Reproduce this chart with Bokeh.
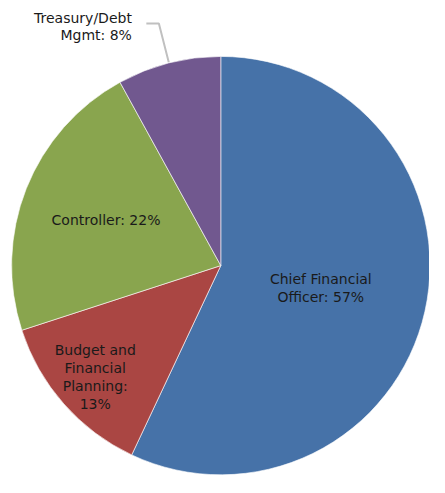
import numpy as np
from bokeh.plotting import figure
from bokeh.models import Range1d, ColumnDataSource
from bokeh.embed import file_html
from bokeh.resources import INLINE
from bokeh.core.properties import value

# ---- data ----
categories = ["Chief Financial Officer", "Budget and Financial Planning", "Controller", "Treasury/Debt Mgmt"]
shares = [57, 13, 22, 8]
label_lines = [
    ["Chief Financial", "Officer: 57%"],
    ["Budget and", "Financial", "Planning:", "13%"],
    ["Controller: 22%"],
    ["Treasury/Debt", "Mgmt: 8%"],
]

# ---- styling / layout ----
colors = ["#4672A8", "#AA4643", "#89A54E", "#71588F"]
label_radius_frac = [0.49, 0.80, 0.59, None]  # None = outside with leader
W, H = 429, 477
CX, CY, R = 228.5, -274.0, 217.0
FONT = "DejaVu Sans"
FS = 14
LINE_H = 18.5

p = figure(width=W, height=H, output_backend="svg", toolbar_location=None,
           x_range=Range1d(0, 445), y_range=Range1d(-493, 0),
           min_border=0)
p.axis.visible = False
p.grid.visible = False
p.outline_line_color = None
p.background_fill_color = "white"
p.border_fill_color = "white"

vals = np.array(shares, dtype=float)
frac = vals / vals.sum()
cum = np.concatenate([[0], np.cumsum(frac)])
start = np.deg2rad(90 - cum[1:] * 360)
end = np.deg2rad(90 - cum[:-1] * 360)
mid = (start + end) / 2

src = ColumnDataSource(dict(start=start, end=end, color=colors, cat=categories))
p.wedge(x=CX, y=CY, radius=R, start_angle="start", end_angle="end", color="color",
        line_color="white", line_width=1, line_alpha=0.6, source=src)

tx, ty, tt, ta = [], [], [], []
for i, lines in enumerate(label_lines):
    f = label_radius_frac[i]
    if f is not None:
        lx = CX + f * R * np.cos(mid[i])
        ly = CY + f * R * np.sin(mid[i])
        n = len(lines)
        for k, s in enumerate(lines):
            tx.append(lx)
            ty.append(ly + (n - 1) / 2 * LINE_H - k * LINE_H)
            tt.append(s)
            ta.append("center")
    else:
        px = CX + R * np.cos(mid[i]); py = CY + R * np.sin(mid[i])
        ex = CX + 1.19 * R * np.cos(mid[i]); ey = CY + 1.19 * R * np.sin(mid[i])
        hx = ex - 13
        p.line([px, ex, hx], [py, ey, ey], line_color="#C0C0C0", line_width=2)
        n = len(lines)
        for k, s in enumerate(lines):
            tx.append(hx - 15)
            ty.append(ey - 3 + (n - 1) / 2 * LINE_H - k * LINE_H)
            tt.append(s)
            ta.append("right")

tsrc = ColumnDataSource(dict(x=tx, y=ty, t=tt, a=ta))
p.text(x="x", y="y", text="t", text_align="a", text_baseline="middle",
       text_font=value(FONT), text_font_size=f"{FS}px", text_color="#1a1a1a", source=tsrc)

open("out.html", "w").write(file_html(p, INLINE))
